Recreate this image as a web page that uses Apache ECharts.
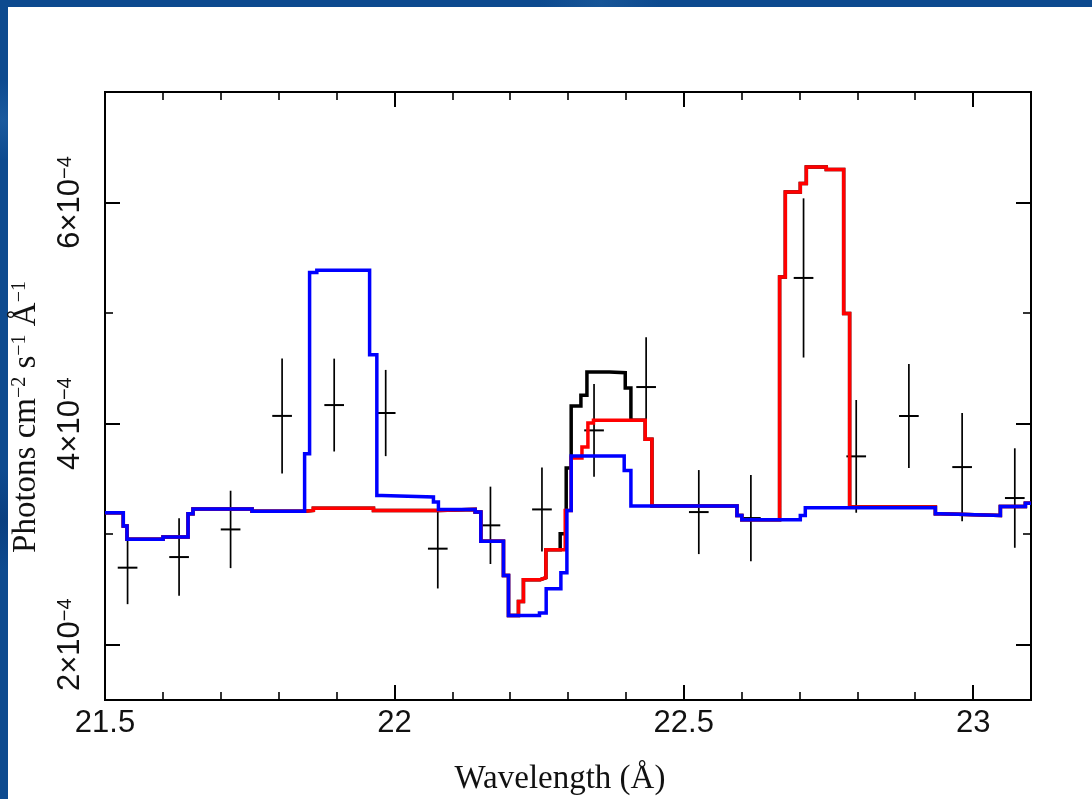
<!DOCTYPE html>
<html>
<head>
<meta charset="utf-8">
<script src="https://cdn.jsdelivr.net/npm/echarts@6/dist/echarts.min.js"></script>
<style>
  html, body { margin: 0; padding: 0; width: 1092px; height: 799px; overflow: hidden; background: #0d4a8f; }
  body { background-image: radial-gradient(circle at 3px 120px, #1a5a9e 0, rgba(0,0,0,0) 40px), radial-gradient(circle at 600px 2px, #175597 0, rgba(0,0,0,0) 60px), radial-gradient(circle at 4px 520px, #0a3f80 0, rgba(0,0,0,0) 50px); }
  #panel { position: absolute; left: 8px; top: 7px; right: 0; bottom: 0; background: #ffffff; }
  #chart { position: absolute; left: 0; top: 0; width: 1092px; height: 799px; }
</style>
</head>
<body>
<div id="panel"></div>
<div id="chart"></div>
<script>
// Axis ranges and tick positions (wavelength in Å, flux in photons cm^-2 s^-1 Å^-1)
const X_MIN = 21.5, X_MAX = 23.1;
const Y_MIN = 1.5e-4, Y_MAX = 7e-4;
const xMajorTicks = [21.5, 22, 22.5, 23];
const xMinorTicks = [21.6, 21.7, 21.8, 21.9, 22.1, 22.2, 22.3, 22.4, 22.6, 22.7, 22.8, 22.9];
const yMajorTicks = [2e-4, 4e-4, 6e-4];
const yMinorTicks = [3e-4, 5e-4];

// Flux arrays below are given in units of 1e-4
const FLUX_UNIT = 1e-4;

// Observed spectrum: bin centre, flux, 1-sigma error
const dataWavelength = [21.539, 21.628, 21.717, 21.806, 21.896, 21.985, 22.075, 22.166, 22.255,
                        22.345, 22.435, 22.526, 22.616, 22.707, 22.798, 22.889, 22.981, 23.072];
const dataFlux = [2.697, 2.793, 3.043, 4.07, 4.168, 4.096, 2.869, 3.08, 3.224,
                  3.939, 4.331, 3.2, 3.146, 5.318, 3.704, 4.069, 3.607, 3.327];
const dataError = [0.33, 0.35, 0.35, 0.52, 0.42, 0.39, 0.36, 0.35, 0.38,
                   0.42, 0.45, 0.38, 0.39, 0.72, 0.51, 0.47, 0.49, 0.45];
const dataHalfWidth = 0.017;

// Model 1 (blue): bin edges and flux per bin
const blueEdges = [21.5, 21.5316, 21.538, 21.6003, 21.6435, 21.6521, 21.7541, 21.8449, 21.8535, 21.866,
                   21.9572, 21.9697, 21.9783, 22.0675, 22.0761, 22.1396, 22.1494, 22.1885, 22.1972, 22.2507,
                   22.2623, 22.2877, 22.2981, 22.3055, 22.3971, 22.4087, 22.592, 22.6004, 22.7014, 22.71,
                   22.9348, 22.9434, 23.0471, 23.0903, 23.1];
const blueFlux = [3.194, 3.073, 2.955, 2.975, 3.185, 3.228, 3.207, 3.728, 5.367, 5.387,
                  4.624, 3.351, 3.336, 3.29, 3.224, 3.2, 2.935, 2.627, 2.265, 2.286,
                  2.507, 2.652, 3.215, 3.707, 3.577, 3.254, 3.17, 3.131, 3.17, 3.24,
                  3.185, 3.17, 3.25, 3.28];

// Model 2 (red)
const redEdges = [21.5, 21.5316, 21.538, 21.6003, 21.6435, 21.6521, 21.7541, 21.8449, 21.86, 21.9639,
                  22.0761, 22.1396, 22.1494, 22.1885, 22.1972, 22.2144, 22.223, 22.2519, 22.2618, 22.2952,
                  22.3055, 22.3241, 22.3344, 22.344, 22.4334, 22.445, 22.592, 22.6004, 22.6656, 22.6755,
                  22.7014, 22.7118, 22.7463, 22.7763, 22.7866, 22.9348, 22.9434, 23.0471, 23.0903, 23.1];
const redFlux = [3.194, 3.073, 2.955, 2.975, 3.185, 3.228, 3.207, 3.215, 3.235, 3.215,
                 3.224, 3.2, 2.935, 2.627, 2.265, 2.392, 2.588, 2.606, 2.86, 3.215,
                 3.689, 3.788, 4.005, 4.03, 3.858, 3.254, 3.17, 3.131, 5.327, 6.096,
                 6.172, 6.322, 6.3, 4.996, 3.245, 3.185, 3.17, 3.25, 3.28];

// Model 3 (black)
const blackEdges = [21.5, 21.5316, 21.538, 21.6003, 21.6435, 21.6521, 21.7541, 21.8449, 21.86, 21.9639,
                    22.0761, 22.1396, 22.1494, 22.1885, 22.1972, 22.2144, 22.223, 22.2519, 22.2618, 22.2865,
                    22.2969, 22.3055, 22.3223, 22.3327, 22.3717, 22.3989, 22.4087, 22.4334, 22.445, 22.592,
                    22.6004, 22.6656, 22.6755, 22.7014, 22.7118, 22.7463, 22.7763, 22.7866, 22.9348, 22.9434,
                    23.0471, 23.0903, 23.1];
const blackFlux = [3.194, 3.073, 2.955, 2.975, 3.185, 3.228, 3.207, 3.215, 3.235, 3.215,
                   3.224, 3.2, 2.935, 2.627, 2.265, 2.392, 2.588, 2.606, 2.86, 3.004,
                   3.598, 4.159, 4.256, 4.467, 4.46, 4.322, 4.03, 3.858, 3.254, 3.17,
                   3.131, 5.327, 6.096, 6.172, 6.322, 6.3, 4.996, 3.245, 3.185, 3.17,
                   3.25, 3.28];

// Turn edges + per-bin values into points for an 'end' step line
function stepPoints(edges, flux) {
  const pts = flux.map((v, i) => [edges[i], v * FLUX_UNIT]);
  pts.push([edges[edges.length - 1], flux[flux.length - 1] * FLUX_UNIT]);
  return pts;
}

const observed = dataWavelength.map((w, i) => [w, dataFlux[i] * FLUX_UNIT, dataError[i] * FLUX_UNIT]);

const SANS = 'Liberation Sans, Arial, sans-serif';
const SERIF = 'Liberation Serif, Times New Roman, serif';

function xAxisDef(position, ticks, length, width, labels) {
  return {
    type: 'value', gridIndex: 0, position: position, min: X_MIN, max: X_MAX,
    axisLine: { show: false, onZero: false },
    splitLine: { show: false },
    axisTick: { show: true, inside: true, length: length, customValues: ticks,
                lineStyle: { color: '#000', width: width } },
    axisLabel: labels ? {
      show: true, customValues: ticks, margin: 8, fontSize: 31, fontFamily: SANS, color: '#111',
      formatter: v => String(+v.toFixed(1))
    } : { show: false }
  };
}

function yAxisDef(position, ticks, length, width, labels) {
  return {
    type: 'value', gridIndex: 0, position: position, min: Y_MIN, max: Y_MAX,
    axisLine: { show: false, onZero: false },
    splitLine: { show: false },
    axisTick: { show: true, inside: true, length: length, customValues: ticks,
                lineStyle: { color: '#000', width: width } },
    axisLabel: labels ? {
      show: true, customValues: ticks, rotate: 90, margin: 19, fontFamily: SANS, color: '#111',
      formatter: v => '{m|' + Math.round(v / FLUX_UNIT) + '×10}{s|−4}',
      rich: {
        m: { fontSize: 31, fontFamily: SANS, color: '#111' },
        s: { fontSize: 20, fontFamily: SANS, color: '#111', verticalAlign: 'top' }
      }
    } : { show: false }
  };
}

const modelLine = (name, pts, color) => ({
  name: name, type: 'line', step: 'end', data: pts, xAxisIndex: 0, yAxisIndex: 0,
  showSymbol: false, symbol: 'none', silent: true, z: 3,
  lineStyle: { color: color, width: 3.5, join: 'miter' }
});

const chart = echarts.init(document.getElementById('chart'), null, { renderer: 'canvas' });
chart.setOption({
  animation: false,
  backgroundColor: 'transparent',
  grid: { left: 105, top: 92, width: 926, height: 608, show: true,
          borderColor: '#000', borderWidth: 2, backgroundColor: 'transparent' },
  xAxis: [
    xAxisDef('bottom', xMajorTicks, 15, 2, true),
    xAxisDef('bottom', xMinorTicks, 8, 1.6, false),
    xAxisDef('top', xMajorTicks, 15, 2, false),
    xAxisDef('top', xMinorTicks, 8, 1.6, false)
  ],
  yAxis: [
    yAxisDef('left', yMajorTicks, 15, 2, true),
    yAxisDef('left', yMinorTicks, 8, 1.6, false),
    yAxisDef('right', yMajorTicks, 15, 2, false),
    yAxisDef('right', yMinorTicks, 8, 1.6, false)
  ],
  series: [
    {
      name: 'data', type: 'custom', xAxisIndex: 0, yAxisIndex: 0, data: observed, z: 2, silent: true,
      encode: { x: 0, y: 1 },
      renderItem: function (params, api) {
        const w = api.value(0), f = api.value(1), e = api.value(2);
        const top = api.coord([w, f + e]);
        const bot = api.coord([w, f - e]);
        const left = api.coord([w - dataHalfWidth, f]);
        const right = api.coord([w + dataHalfWidth, f]);
        return {
          type: 'group',
          children: [
            { type: 'line', shape: { x1: top[0], y1: top[1], x2: bot[0], y2: bot[1] },
              style: { stroke: '#000', lineWidth: 1.7 } },
            { type: 'line', shape: { x1: left[0], y1: left[1], x2: right[0], y2: right[1] },
              style: { stroke: '#000', lineWidth: 2 } }
          ]
        };
      }
    },
    modelLine('model 3', stepPoints(blackEdges, blackFlux), '#000000'),
    modelLine('model 2', stepPoints(redEdges, redFlux), '#ff0000'),
    modelLine('model 1', stepPoints(blueEdges, blueFlux), '#0000ff')
  ],
  graphic: [
    {
      type: 'text', x: 560, y: 779, silent: true,
      style: { text: 'Wavelength (Å)', fontSize: 33, fontFamily: SERIF,
               fill: '#111', align: 'center', verticalAlign: 'middle' }
    },
    {
      type: 'text', x: 26, y: 417, rotation: Math.PI / 2, silent: true,
      style: {
        text: '{m|Photons cm}{s|−2}{m| s}{s|−1}{m| Å}{s|−1}',
        align: 'center', verticalAlign: 'middle',
        rich: {
          m: { fontSize: 33, fontFamily: SERIF, fill: '#111', color: '#111' },
          s: { fontSize: 20, fontFamily: SERIF, fill: '#111', color: '#111', verticalAlign: 'top' }
        }
      }
    }
  ]
});
</script>
</body>
</html>
